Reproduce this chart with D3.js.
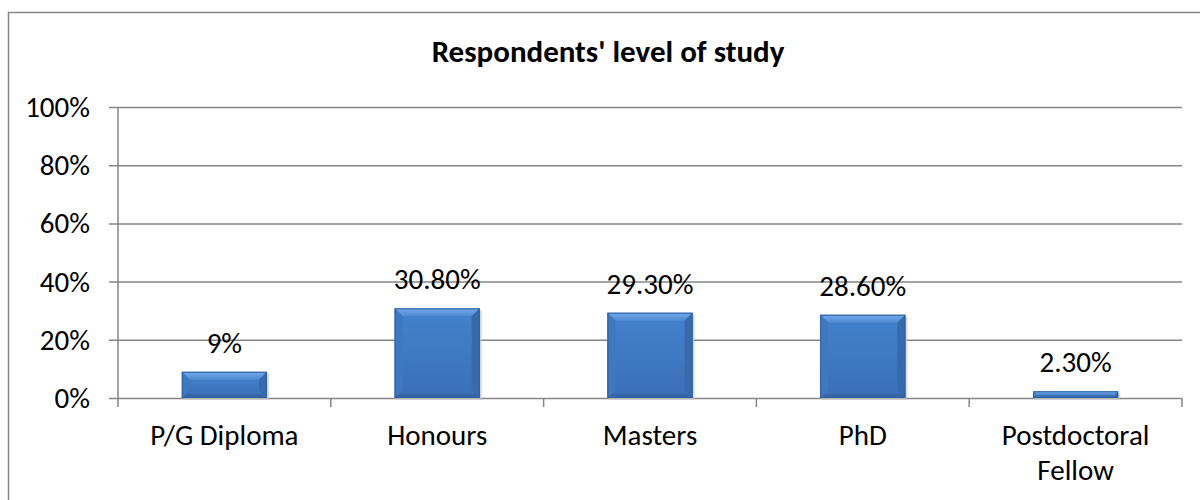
<!DOCTYPE html>
<html>
<head>
<meta charset="utf-8">
<script src="https://cdn.jsdelivr.net/npm/d3@7"></script>
<style>
  body { margin: 0; background: #fff; }
  svg text { font-family: Carlito, "Open Sans", sans-serif; fill: #000; }
</style>
</head>
<body>
<svg id="chart" width="1200" height="500"></svg>
<script>
// chart data
const categories = ["P/G Diploma", "Honours", "Masters", "PhD", "Postdoctoral\nFellow"];
const values = [9, 30.8, 29.3, 28.6, 2.3];
const valueLabels = ["9%", "30.80%", "29.30%", "28.60%", "2.30%"];
const yTicks = [0, 20, 40, 60, 80, 100];
const title = "Respondents' level of study";

const svg = d3.select("#chart");
const margin = {left: 118, right: 1182, top: 107, bottom: 398};
const fs = 29;

// outer frame (cropped at right/bottom like the source)
svg.append("rect")
    .attr("x", 8.5).attr("y", 12.5)
    .attr("width", 1300).attr("height", 600)
    .attr("fill", "none")
    .attr("stroke", "#868686")
    .attr("stroke-width", 1.5);

svg.append("text")
    .attr("x", 608).attr("y", 62)
    .attr("text-anchor", "middle")
    .attr("font-weight", "bold")
    .attr("font-size", 31)
    .text(title);

let x = d3.scaleBand()
    .domain(categories)
    .range([margin.left, margin.right])
    .paddingInner(0.6)
    .paddingOuter(0.3);

let y = d3.scaleLinear()
    .domain([0, 100])
    .range([margin.bottom, margin.top]);

// gridlines
svg.append("g")
    .selectAll("line")
    .data(yTicks)
    .join("line")
    .attr("x1", margin.left - 9).attr("x2", margin.right)
    .attr("y1", d => y(d) + 0.5).attr("y2", d => y(d) + 0.5)
    .attr("stroke", "#868686")
    .attr("stroke-width", 1.5);

// y axis line
svg.append("line")
    .attr("x1", margin.left).attr("x2", margin.left)
    .attr("y1", margin.top).attr("y2", margin.bottom + 9)
    .attr("stroke", "#868686")
    .attr("stroke-width", 1.5);

// category boundary ticks
let bounds = d3.range(categories.length + 1).map(i => margin.left + i * (margin.right - margin.left) / categories.length);
svg.append("g")
    .selectAll("line")
    .data(bounds.slice(1))
    .join("line")
    .attr("x1", d => d).attr("x2", d => d)
    .attr("y1", margin.bottom).attr("y2", margin.bottom + 9)
    .attr("stroke", "#868686")
    .attr("stroke-width", 1.5);

// y tick labels
svg.append("g")
    .selectAll("text")
    .data(yTicks)
    .join("text")
    .attr("x", 90)
    .attr("y", d => y(d) + 10)
    .attr("text-anchor", "end")
    .attr("font-size", fs)
    .text(d => d + "%");

// gradients for the bevelled bars
let defs = svg.append("defs");
let g1 = defs.append("linearGradient").attr("id", "barFill")
    .attr("x1", 0).attr("y1", 0).attr("x2", 0).attr("y2", 1);
g1.append("stop").attr("offset", "0%").attr("stop-color", "#4382cc");
g1.append("stop").attr("offset", "100%").attr("stop-color", "#3a70b6");
let g2 = defs.append("linearGradient").attr("id", "topBevel")
    .attr("x1", 0).attr("y1", 0).attr("x2", 0).attr("y2", 1);
g2.append("stop").attr("offset", "0%").attr("stop-color", "#74aaea");
g2.append("stop").attr("offset", "100%").attr("stop-color", "#4d8ad2");

let bev = 8;
let bars = svg.append("g")
    .selectAll("g")
    .data(values)
    .join("g");

bars.each(function (d, i) {
    let g = d3.select(this);
    let bx = x(categories[i]);
    let bw = x.bandwidth();
    let by = y(d);
    let bh = y(0) - by;
    let b = Math.min(bev, bh / 2);
    // shadow
    g.append("rect")
        .attr("x", bx + 1).attr("y", by + 2)
        .attr("width", bw + 1).attr("height", bh)
        .attr("fill", "#c8c8c8").attr("opacity", 0.7);
    g.append("rect")
        .attr("x", bx).attr("y", by)
        .attr("width", bw).attr("height", bh)
        .attr("fill", "url(#barFill)");
    // top bevel
    g.append("polygon")
        .attr("points", [[bx, by], [bx + bw, by], [bx + bw - b, by + b], [bx + b, by + b]].join(" "))
        .attr("fill", "url(#topBevel)");
    // left bevel
    g.append("polygon")
        .attr("points", [[bx, by], [bx + b, by + b], [bx + b, by + bh - b], [bx, by + bh]].join(" "))
        .attr("fill", "#3e78c0");
    // right bevel
    g.append("polygon")
        .attr("points", [[bx + bw, by], [bx + bw - b, by + b], [bx + bw - b, by + bh - b], [bx + bw, by + bh]].join(" "))
        .attr("fill", "#356aae");
    // bottom bevel
    g.append("polygon")
        .attr("points", [[bx, by + bh], [bx + b / 2, by + bh - b / 2], [bx + bw - b / 2, by + bh - b / 2], [bx + bw, by + bh]].join(" "))
        .attr("fill", "#3567a8");
    g.append("rect")
        .attr("x", bx + 0.5).attr("y", by + 0.5)
        .attr("width", bw - 1).attr("height", Math.max(bh - 1, 0))
        .attr("fill", "none")
        .attr("stroke", "#2f5f9e").attr("stroke-width", 1);
});

// value labels
svg.append("g")
    .selectAll("text")
    .data(values)
    .join("text")
    .attr("x", (d, i) => x(categories[i]) + x.bandwidth() / 2)
    .attr("y", d => y(d) - 19)
    .attr("text-anchor", "middle")
    .attr("font-size", fs)
    .text((d, i) => valueLabels[i]);

// category labels
svg.append("g")
    .selectAll("text")
    .data(categories)
    .join("text")
    .attr("x", d => x(d) + x.bandwidth() / 2)
    .attr("y", 445)
    .attr("text-anchor", "middle")
    .attr("font-size", fs)
    .each(function (d) {
        let lines = d.split("\n");
        let t = d3.select(this);
        lines.forEach((l, j) => {
            t.append("tspan")
                .attr("x", t.attr("x"))
                .attr("dy", j === 0 ? 0 : 35)
                .text(l);
        });
    });
</script>
</body>
</html>
